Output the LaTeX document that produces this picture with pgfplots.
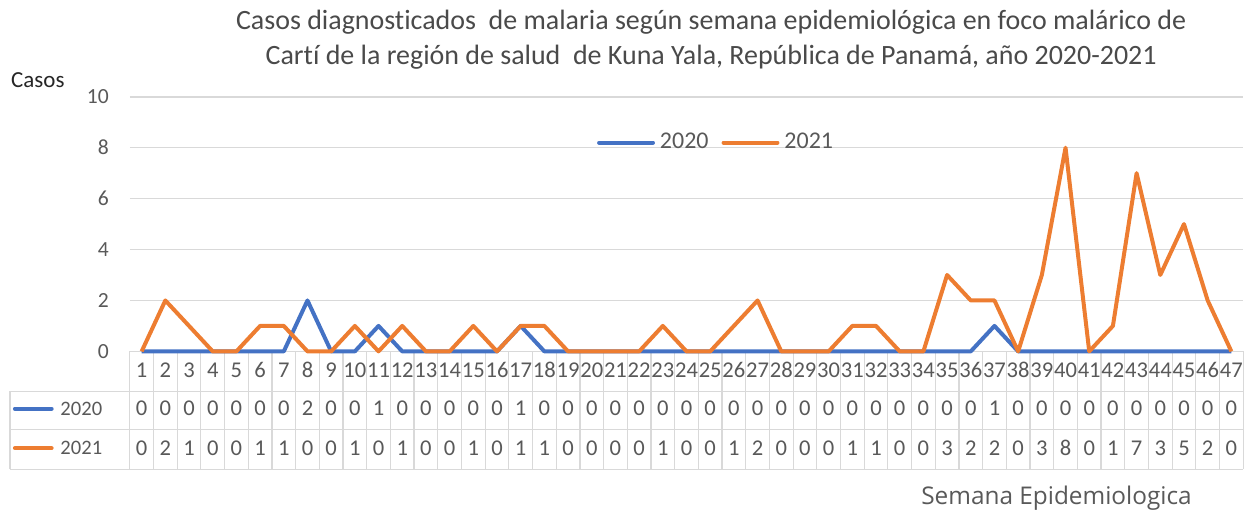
\documentclass[border=0pt]{standalone}
\usepackage{fontspec}
\setmainfont{Carlito}[Ligatures=NoCommon]
\newfontfamily\segoe{Open Sans}
\usepackage{pgfplots}
\usepackage{pgfplotstable}
\pgfplotsset{compat=1.18}
\definecolor{c2020}{HTML}{4472C4}
\definecolor{c2021}{HTML}{ED7D31}
\definecolor{gridc}{HTML}{D9D9D9}
\definecolor{txt}{HTML}{595959}
\definecolor{ttl}{HTML}{4A4A4A}

% semana, casos 2020, casos 2021
\pgfplotstableread{
w a b
1 0 0
2 0 2
3 0 1
4 0 0
5 0 0
6 0 1
7 0 1
8 2 0
9 0 0
10 0 1
11 1 0
12 0 1
13 0 0
14 0 0
15 0 1
16 0 0
17 1 1
18 0 1
19 0 0
20 0 0
21 0 0
22 0 0
23 0 1
24 0 0
25 0 0
26 0 1
27 0 2
28 0 0
29 0 0
30 0 0
31 0 1
32 0 1
33 0 0
34 0 0
35 0 3
36 0 2
37 1 2
38 0 0
39 0 3
40 0 8
41 0 0
42 0 1
43 0 7
44 0 3
45 0 5
46 0 2
47 0 0
}\malaria

\pgfplotsset{
  cell/.style={draw=none, mark=none, forget plot, nodes near coords,
    point meta=explicit, nodes near coords align=center,
    every node near coord/.append style={font=\fontsize{11.3}{12}\selectfont,
      text=txt, inner sep=0pt}},
}
\tikzset{tline/.style={draw=gridc, line width=0.6pt}}

\begin{document}
\begin{tikzpicture}
\begin{axis}[
  width=557.5pt, height=127.5pt, scale only axis,
  xmin=0.5, xmax=47.5, ymin=0, ymax=10,
  ytick={0,2,...,10}, xtick=\empty,
  ymajorgrids, grid style={gridc, line width=0.8pt},
  axis line style={draw=none},
  major tick length=0pt,
  clip=false,
  tick label style={font=\fontsize{10.8}{12}\selectfont, text=txt},
  /pgf/number format/assume math mode=true,
  yticklabel style={xshift=-7pt},
  legend style={at={(0.527,0.82)}, anchor=center, draw=none, fill=none,
    legend columns=2, font=\fontsize{12}{14}\selectfont, text=txt,
    nodes={inner sep=1.5pt},
    /tikz/every odd column/.append style={column sep=1pt},
    /tikz/every even column/.append style={column sep=5pt}},
  legend image code/.code={\draw[#1, line cap=round] (0pt,0pt) -- (27pt,0pt);},
]
% bounding box of the whole figure
\path (axis cs:-4.98,13.8) rectangle (axis cs:47.46,-6.27);

% data table grid
\pgfplotsinvokeforeach{0,...,47}{
  \draw[tline] (axis cs:#1+0.5,0) -- (axis cs:#1+0.5,-4.63);
}
\draw[tline] (axis cs:-4.56,-1.57) -- (axis cs:47.5,-1.57);
\draw[tline] (axis cs:-4.56,-3.06) -- (axis cs:47.5,-3.06);
\draw[tline] (axis cs:-4.56,-4.63) -- (axis cs:47.5,-4.63);
\draw[tline] (axis cs:-4.56,-1.57) -- (axis cs:-4.56,-4.63);

\addplot[c2020, line width=2pt, line join=round] table[x=w, y=a]{\malaria};
\addlegendentry{2020}
\addplot[c2021, line width=2pt, line join=round] table[x=w, y=b]{\malaria};
\addlegendentry{2021}

% table rows
\addplot[cell] table[x=w, y expr=-0.74, meta=w]{\malaria};
\addplot[cell] table[x=w, y expr=-2.25, meta=a]{\malaria};
\addplot[cell] table[x=w, y expr=-3.80, meta=b]{\malaria};

% row keys
\draw[c2020, line width=2pt, line cap=round] (axis cs:-4.35,-2.25) -- (axis cs:-2.8,-2.25);
\node[anchor=east, text=txt, font=\fontsize{10.3}{12}\selectfont, inner sep=0pt]
  at (axis cs:-0.65,-2.25) {2020};
\draw[c2021, line width=2pt, line cap=round] (axis cs:-4.35,-3.80) -- (axis cs:-2.8,-3.80);
\node[anchor=east, text=txt, font=\fontsize{10.3}{12}\selectfont, inner sep=0pt]
  at (axis cs:-0.65,-3.80) {2021};

% titles and labels
\node[align=center, text=ttl, font=\fontsize{14}{18}\selectfont]
  at (axis cs:25.04,12.24)
  {Casos diagnosticados \ de malaria según semana epidemiológica en foco malárico de\\
   Cartí de la región de salud \ de Kuna Yala, República de Panamá, año 2020-2021};
\node[text=black!85, font=\fontsize{11.5}{12}\selectfont] at (axis cs:-3.38,10.67) {Casos};
\node[text=txt, font=\segoe\fontsize{12.2}{14}\selectfont] at (axis cs:39.62,-5.76)
  {Semana Epidemiologica};
\end{axis}
\end{tikzpicture}
\end{document}
